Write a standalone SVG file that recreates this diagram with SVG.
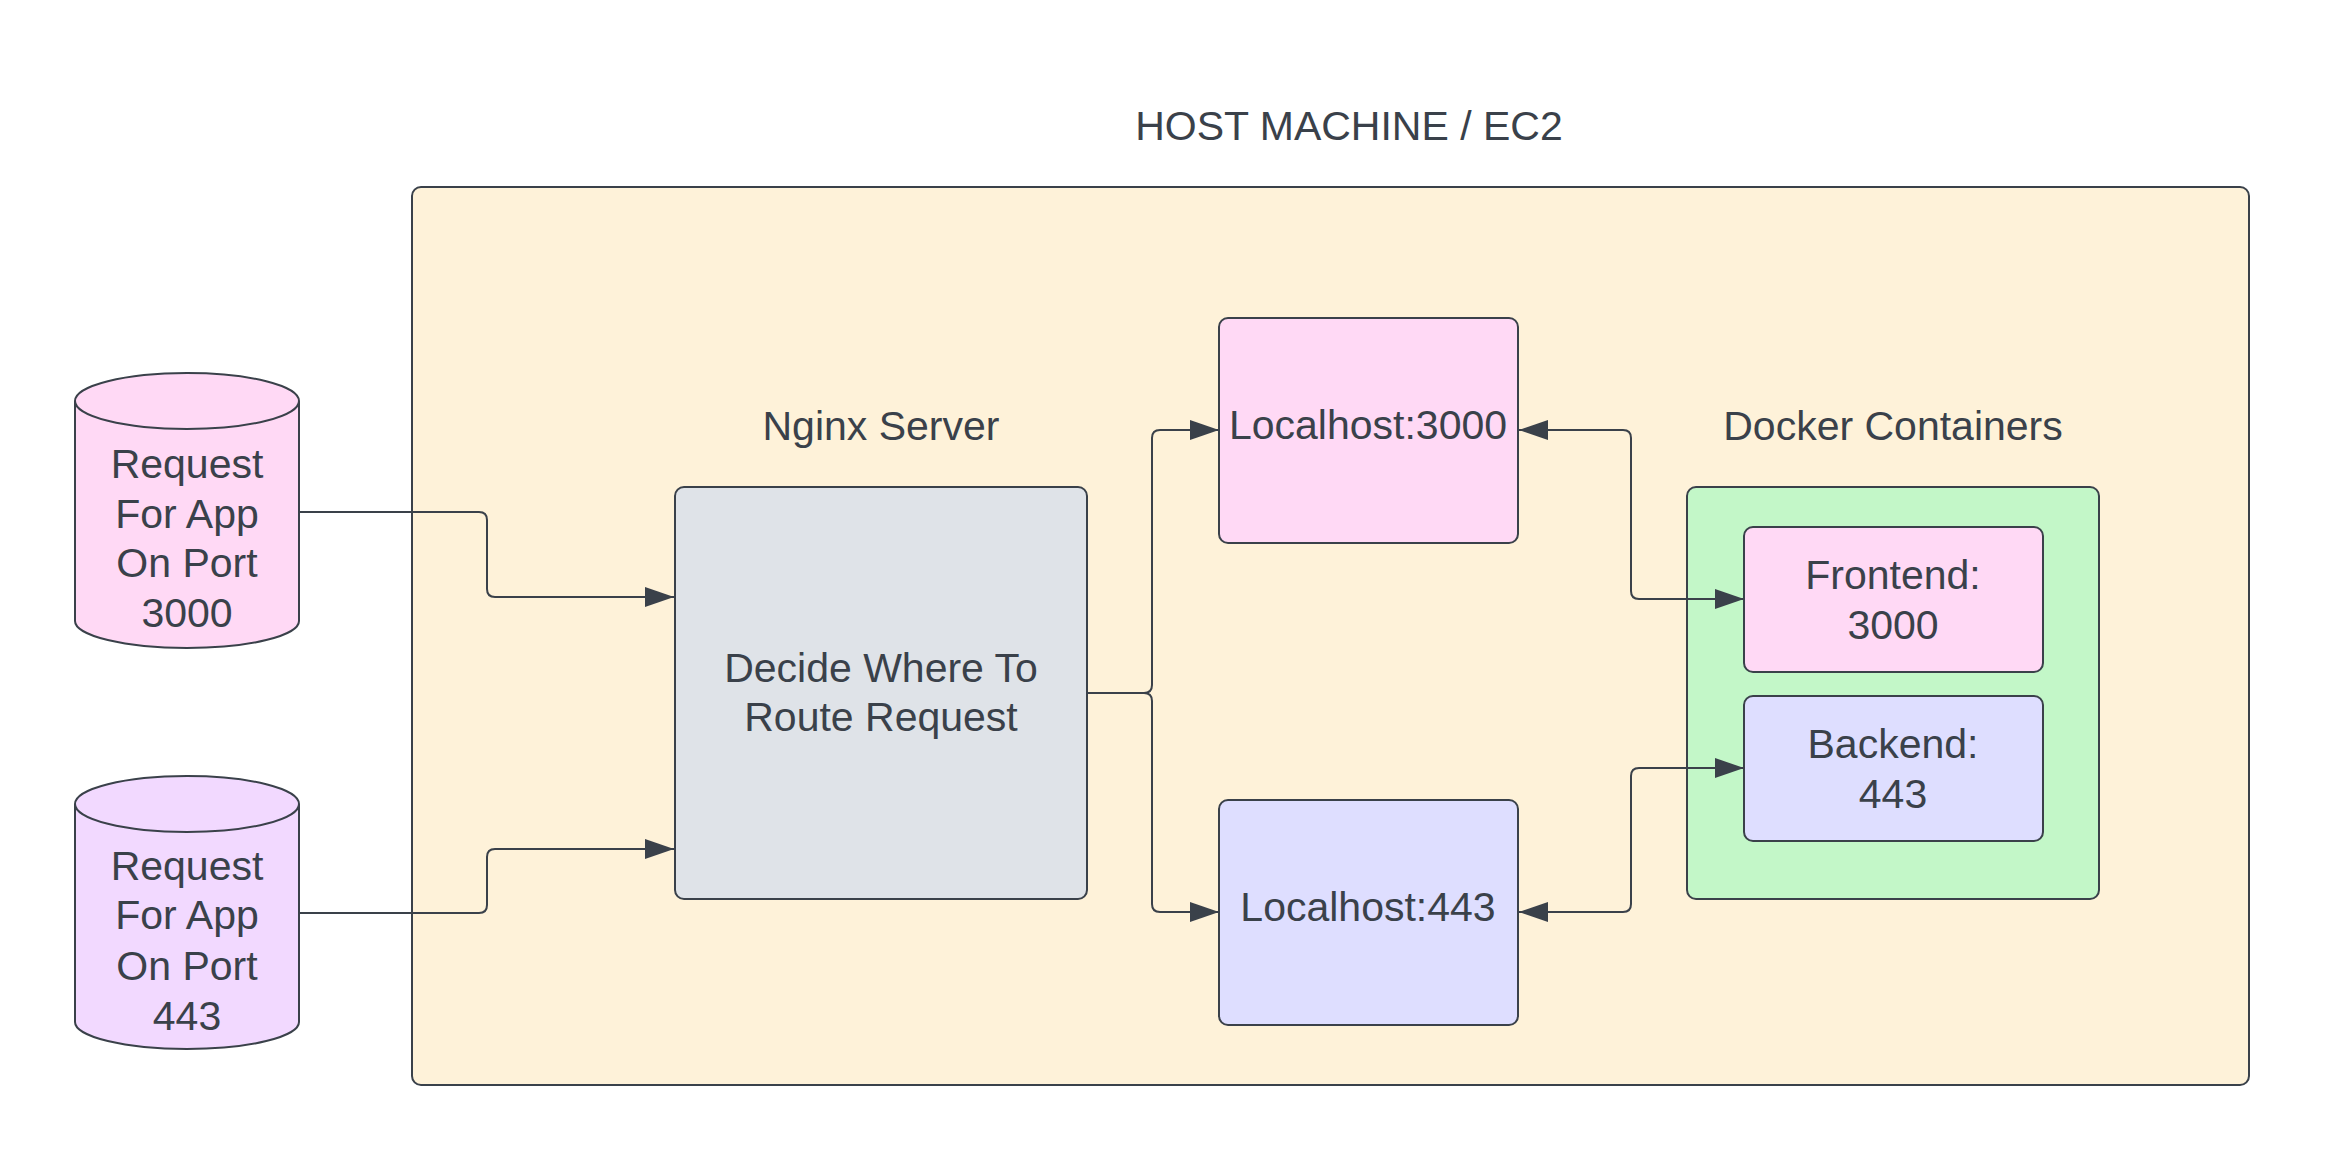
<svg xmlns="http://www.w3.org/2000/svg" width="2325" height="1163" viewBox="0 0 2325 1163">
<style>
  .shape { stroke: #3a414a; stroke-width: 2; }
  .lbl { font-family: "Liberation Sans", Arial, sans-serif; font-size: 41px; fill: #3a414a; text-anchor: middle; }
  .conn { fill: none; stroke: #3a414a; stroke-width: 2; }
</style>
<defs>
  <marker id="arrow" markerUnits="userSpaceOnUse" markerWidth="30" markerHeight="22" refX="29" refY="10" orient="auto-start-reverse" viewBox="0 0 30 22">
    <path d="M0,0 L29,10 L0,20 Z" fill="#3a414a"/>
  </marker>
</defs>
<rect width="2325" height="1163" fill="#ffffff"/>

<g id="host">
  <rect class="shape" x="412" y="187" width="1837" height="898" rx="9" fill="#fef2d9"/>
  <text class="lbl" x="1349" y="140">HOST MACHINE / EC2</text>
</g>

<g id="request3000">
  <path class="shape" d="M75,401 A112,28 0 0 1 299,401 L299,621 A112,27 0 0 1 75,621 Z" fill="#ffd9f5"/>
  <path class="shape" d="M75,401 A112,28 0 0 0 299,401" fill="none"/>
  <text class="lbl" x="187" y="478">Request</text>
  <text class="lbl" x="187" y="528">For App</text>
  <text class="lbl" x="187" y="577">On Port</text>
  <text class="lbl" x="187" y="627">3000</text>
</g>

<g id="request443">
  <path class="shape" d="M75,804 A112,28 0 0 1 299,804 L299,1022 A112,27 0 0 1 75,1022 Z" fill="#f2d9ff"/>
  <path class="shape" d="M75,804 A112,28 0 0 0 299,804" fill="none"/>
  <text class="lbl" x="187" y="880">Request</text>
  <text class="lbl" x="187" y="929">For App</text>
  <text class="lbl" x="187" y="980">On Port</text>
  <text class="lbl" x="187" y="1030">443</text>
</g>

<g id="nginx">
  <text class="lbl" x="881" y="440">Nginx Server</text>
  <rect class="shape" x="675" y="487" width="412" height="412" rx="9" fill="#dfe3e8"/>
  <text class="lbl" x="881" y="682">Decide Where To</text>
  <text class="lbl" x="881" y="731">Route Request</text>
</g>

<g id="localhost3000">
  <rect class="shape" x="1219" y="318" width="299" height="225" rx="9" fill="#ffd9f5"/>
  <text class="lbl" x="1368" y="439">Localhost:3000</text>
</g>

<g id="localhost443">
  <rect class="shape" x="1219" y="800" width="299" height="225" rx="9" fill="#dedeff"/>
  <text class="lbl" x="1368" y="921">Localhost:443</text>
</g>

<g id="docker">
  <text class="lbl" x="1893" y="440">Docker Containers</text>
  <rect class="shape" x="1687" y="487" width="412" height="412" rx="9" fill="#c3f7c8"/>
</g>

<g id="frontend">
  <rect class="shape" x="1744" y="527" width="299" height="145" rx="9" fill="#ffd9f5"/>
  <text class="lbl" x="1893" y="589">Frontend:</text>
  <text class="lbl" x="1893" y="639">3000</text>
</g>

<g id="backend">
  <rect class="shape" x="1744" y="696" width="299" height="145" rx="9" fill="#dedeff"/>
  <text class="lbl" x="1893" y="758">Backend:</text>
  <text class="lbl" x="1893" y="808">443</text>
</g>

<g id="connectors">
  <path class="conn" d="M299,512 H479 Q487,512 487,520 V589 Q487,597 495,597 H674" marker-end="url(#arrow)"/>
  <path class="conn" d="M299,913 H479 Q487,913 487,905 V857 Q487,849 495,849 H674" marker-end="url(#arrow)"/>
  <path class="conn" d="M1087,693 H1144 Q1152,693 1152,685 V438 Q1152,430 1160,430 H1219" marker-end="url(#arrow)"/>
  <path class="conn" d="M1087,693 H1144 Q1152,693 1152,701 V904 Q1152,912 1160,912 H1219" marker-end="url(#arrow)"/>
  <path class="conn" d="M1519,430 H1623 Q1631,430 1631,438 V591 Q1631,599 1639,599 H1744" marker-start="url(#arrow)" marker-end="url(#arrow)"/>
  <path class="conn" d="M1519,912 H1623 Q1631,912 1631,904 V776 Q1631,768 1639,768 H1744" marker-start="url(#arrow)" marker-end="url(#arrow)"/>
</g>
</svg>
